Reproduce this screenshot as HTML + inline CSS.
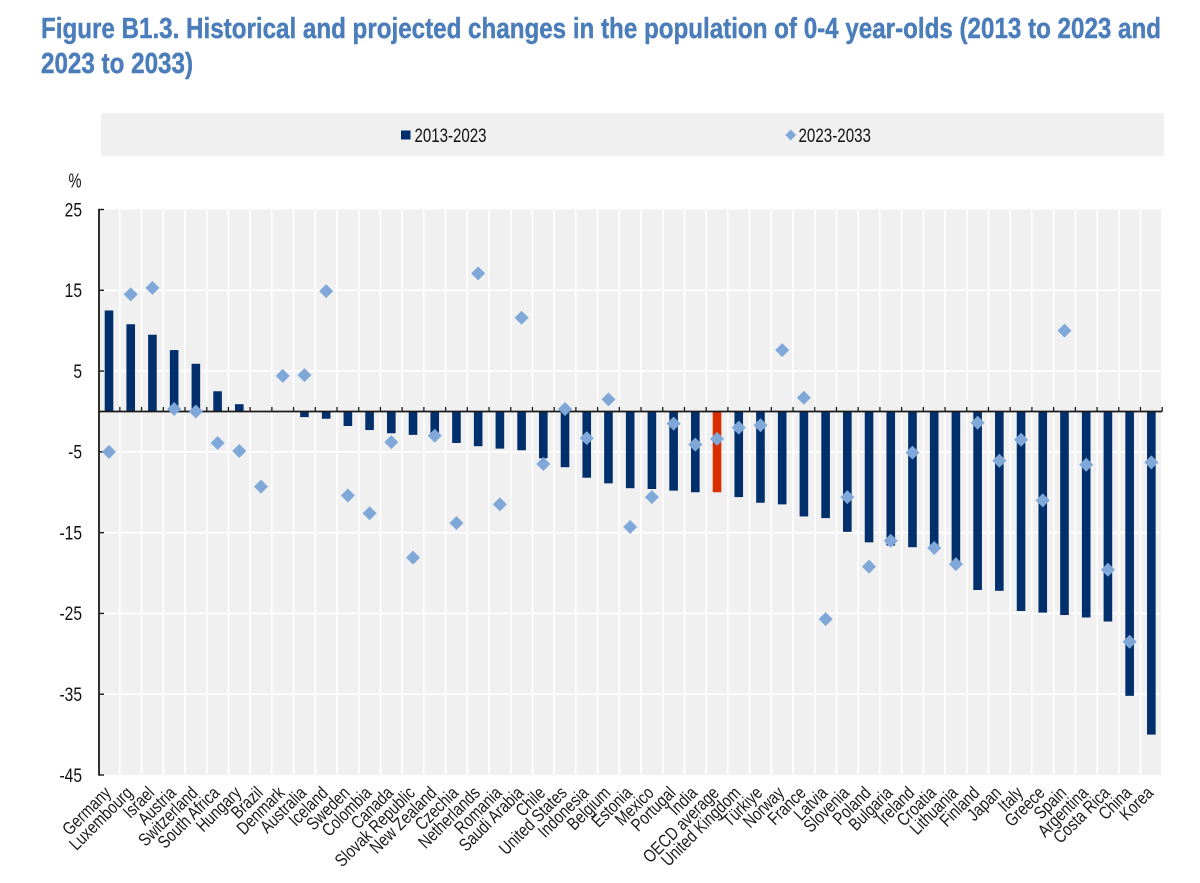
<!DOCTYPE html>
<html lang="en">
<head>
<meta charset="utf-8">
<title>Figure B1.3</title>
<style>
html,body{margin:0;padding:0;background:#fff;width:1200px;height:883px;overflow:hidden}
svg{display:block;font-family:"Liberation Sans",sans-serif;filter:blur(.35px)}
</style>
</head>
<body>
<svg id="chart" xmlns="http://www.w3.org/2000/svg" width="1200" height="883" viewBox="0 0 1200 883">
  <text x="41" y="38" font-size="29" font-weight="700" fill="#4a7dba" stroke="#4a7dba" stroke-width=".45" textLength="1120" lengthAdjust="spacingAndGlyphs">Figure B1.3. Historical and projected changes in the population of 0-4 year-olds (2013 to 2023 and</text>
  <text x="41" y="73" font-size="29" font-weight="700" fill="#4a7dba" stroke="#4a7dba" stroke-width=".45" textLength="152" lengthAdjust="spacingAndGlyphs">2023 to 2033)</text>
  <rect x="101" y="113" width="1063" height="43" fill="#f0f0f0"/>
  <rect x="401" y="130.5" width="9.5" height="9" fill="#002f6c"/>
  <text x="414.5" y="142" font-size="19.5" fill="#111" textLength="72" lengthAdjust="spacingAndGlyphs">2013-2023</text>
  <polygon points="790.7,129.5 796,135 790.7,140.5 785.4,135" fill="#7fa8d9"/>
  <text x="798.5" y="142" font-size="19.5" fill="#111" textLength="72.5" lengthAdjust="spacingAndGlyphs">2023-2033</text>
  <text x="68.5" y="187.5" font-size="20" fill="#111" textLength="13" lengthAdjust="spacingAndGlyphs">%</text>
  <rect x="99" y="209.5" width="1062" height="565.5" fill="#f0f0f0"/>
  <g id="grid"></g>
  <g id="bars"></g>
  <g id="axes"></g>
  <g id="points"></g>
  <g id="yLabels"></g>
  <g id="xLabels"></g>
</svg>
<script>
const categories = ["Germany","Luxembourg","Israel","Austria","Switzerland","South Africa","Hungary","Brazil","Denmark","Australia","Iceland","Sweden","Colombia","Canada","Slovak Republic","New Zealand","Czechia","Netherlands","Romania","Saudi Arabia","Chile","United States","Indonesia","Belgium","Estonia","Mexico","Portugal","India","OECD average","United Kingdom","Türkiye","Norway","France","Latvia","Slovenia","Poland","Bulgaria","Ireland","Croatia","Lithuania","Finland","Japan","Italy","Greece","Spain","Argentina","Costa Rica","China","Korea"];
const values2013to2023 = [12.5,10.8,9.5,7.6,5.9,2.5,0.9,0,0,-0.7,-0.9,-1.8,-2.3,-2.7,-2.9,-3.1,-3.9,-4.3,-4.6,-4.8,-5.8,-6.9,-8.2,-8.9,-9.5,-9.6,-9.8,-10,-10,-10.6,-11.3,-11.5,-13,-13.2,-14.9,-16.2,-16.6,-16.8,-16.9,-18.8,-22.1,-22.2,-24.7,-24.9,-25.2,-25.5,-26,-35.2,-40];
const values2023to2033 = [-5,14.5,15.3,0.3,0,-3.9,-4.9,-9.3,4.4,4.5,14.9,-10.4,-12.6,-3.8,-18.1,-3,-13.8,17.1,-11.5,11.6,-6.5,0.3,-3.3,1.5,-14.3,-10.6,-1.5,-4.1,-3.4,-2,-1.7,7.6,1.7,-25.7,-10.6,-19.2,-16,-5.1,-16.9,-18.9,-1.4,-6.1,-3.5,-11,10,-6.6,-19.6,-28.5,-6.3];
const yTicks = [25,15,5,-5,-15,-25,-35,-45];
const highlightCategory = "OECD average";

const NS = "http://www.w3.org/2000/svg";
const plotLeft = 98.15, plotRight = 1162.2, plotTop = 209.5, plotBottom = 775;
const step = (plotRight - plotLeft) / categories.length;
function xCenter(i){ return plotLeft + step * (i + 0.5); }
function xEdge(i){ return plotLeft + step * i; }
function yScale(v){ return plotTop + (25 - v) * (plotBottom - plotTop) / 70; }
function make(tag, attrs, parent){
  const el = document.createElementNS(NS, tag);
  for (const k in attrs) el.setAttribute(k, attrs[k]);
  parent.appendChild(el);
  return el;
}
const grid = document.getElementById("grid");
const bars = document.getElementById("bars");
const axes = document.getElementById("axes");
const points = document.getElementById("points");
const yLabels = document.getElementById("yLabels");
const xLabels = document.getElementById("xLabels");
const axisColor = "#1a1a1a";

categories.forEach((c, i) => {
  if (i > 0) {
    const g = make("line", {x1:xEdge(i), x2:xEdge(i), y1:plotTop, y2:plotBottom, stroke:"#fff", "stroke-width":1.6}, grid);
    
    
  }
});
yTicks.forEach(t => {
  const yy = yScale(t);
  if (t !== 25 && t !== -45) {
    const g = make("line", {x1:plotLeft, x2:plotRight, y1:yy, y2:yy, stroke:"#fff", "stroke-width":1.6}, grid);
    
    
  }
  const tk = make("line", {x1:99, x2:104, y1:yy, y2:yy, stroke:axisColor, "stroke-width":1.4}, axes);
  
  
  const lb = make("text", {transform:"translate(82," + (yy + 6.8) + ") scale(.8,1)", "text-anchor":"end", "font-size":19.5, fill:"#111"}, yLabels);
  lb.textContent = String(t);
  
  
});
const yAxis = make("line", {x1:99, x2:99, y1:plotTop - .6, y2:plotBottom + .6, stroke:axisColor, "stroke-width":1.8}, axes);



const barWidth = 8.6;
categories.forEach((c, i) => {
  const v = values2013to2023[i];
  if (v === 0) return;
  const y0 = yScale(0), y1 = yScale(v);
  const b = make("rect", {x:xCenter(i) - barWidth / 2, y:Math.min(y0, y1), width:barWidth, height:Math.abs(y1 - y0), fill:c === highlightCategory ? "#da2d00" : "#002f6c"}, bars);
  
  
});

const zeroLine = make("line", {x1:99, x2:plotRight, y1:yScale(0), y2:yScale(0), stroke:axisColor, "stroke-width":1.8}, axes);


for (let i = 1; i <= categories.length; i++) {
  const tk = make("line", {x1:xEdge(i), x2:xEdge(i), y1:yScale(0) - 4.5, y2:yScale(0), stroke:axisColor, "stroke-width":1.3}, axes);
  
  
}

const dr = 7;
categories.forEach((c, i) => {
  const cx = xCenter(i), cy = yScale(values2023to2033[i]);
  const p = make("polygon", {points:[[cx, cy - dr], [cx + dr, cy], [cx, cy + dr], [cx - dr, cy]].map(q => q.join(",")).join(" "), fill:"#7fa8d9"}, points);
  
  
  const t = make("text", {transform:"translate(" + (cx + 3) + ",794) rotate(-45) scale(.81,1)", "text-anchor":"end", "font-size":18, fill:"#1a1a1a"}, xLabels);
  t.textContent = c;
  
  
});
</script>
</body>
</html>
